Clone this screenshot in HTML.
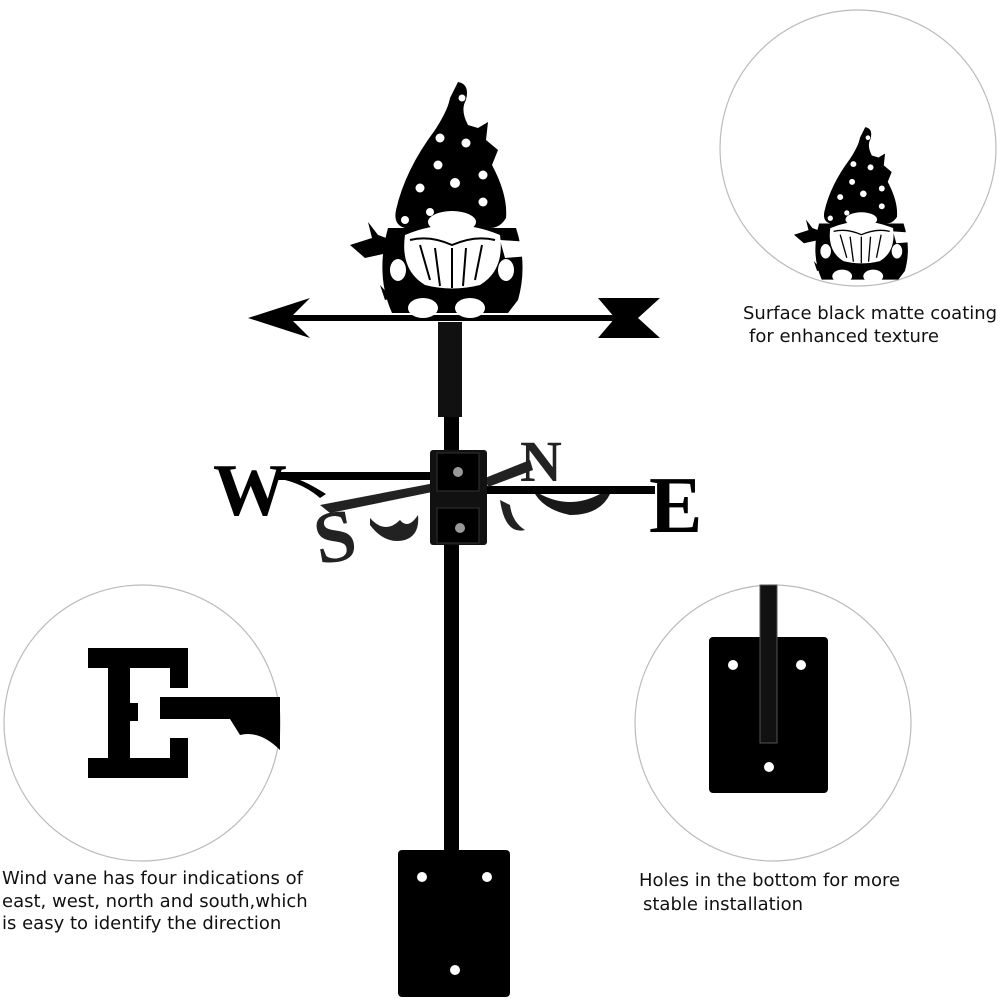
<!DOCTYPE html>
<html><head><meta charset="utf-8"><style>
html,body{margin:0;padding:0;background:#fff;}
svg{display:block}
text.c{font-family:"DejaVu Sans","Liberation Sans",sans-serif;font-size:18px;fill:#111;}
text.l{font-family:"Liberation Serif",serif;font-weight:bold;fill:#000;}
</style></head><body>
<svg width="1000" height="1000" viewBox="0 0 1000 1000" xmlns="http://www.w3.org/2000/svg">
<defs>
<g id="gn">
<g fill="#000">
<path d="M458 82 Q470 84 466 100 Q460 110 468 125 L478 128 L488 122 L486 140 L498 150 L492 165 Q508 195 506 218 Q500 228 490 228 L405 228 Q393 225 396 210 Q405 170 435 130 Q448 110 450 98 Z"/>
<path d="M388 228 L516 228 Q528 265 518 300 L508 313 L392 313 Q375 275 388 228 Z"/>
<path d="M350 245 L372 238 L368 222 L378 235 L392 240 L392 252 L365 258 Z"/>
<path d="M385 300 L380 285 L392 298 Z M505 300 L520 285 L512 305 Z"/>
</g>
<g fill="#fff">
<path d="M405 235 Q452 215 500 235 Q505 270 480 285 Q452 292 425 285 Q400 270 405 235 Z"/>
<ellipse cx="452" cy="222" rx="24" ry="11"/>
<path d="M500 240 L530 242 L545 248 L530 256 L505 258 Z"/>
<circle cx="462" cy="98" r="3.5"/>
<circle cx="440" cy="138" r="4.5"/><circle cx="466" cy="143" r="4.5"/><circle cx="438" cy="165" r="4.5"/>
<circle cx="455" cy="183" r="5"/><circle cx="420" cy="188" r="4.5"/><circle cx="483" cy="175" r="4.5"/>
<circle cx="483" cy="202" r="4.5"/><circle cx="430" cy="212" r="4"/><circle cx="405" cy="220" r="4"/>
<ellipse cx="398" cy="270" rx="8" ry="11"/><ellipse cx="506" cy="270" rx="8" ry="11"/>
<ellipse cx="423" cy="308" rx="15" ry="10"/><ellipse cx="470" cy="308" rx="15" ry="10"/>
</g>
<path d="M410 240 Q430 235 452 245 Q475 235 495 240 M420 245 L430 280 M435 248 L440 286 M452 248 L452 288 M466 248 L463 286 M482 245 L475 280" stroke="#000" stroke-width="2" fill="none"/>
</g>
</defs>

<circle cx="858" cy="148" r="138" fill="none" stroke="#bbb" stroke-width="1.2"/>
<circle cx="142" cy="723" r="138" fill="none" stroke="#bbb" stroke-width="1.2"/>
<circle cx="773" cy="723" r="138" fill="none" stroke="#bbb" stroke-width="1.2"/>

<use href="#gn" transform="translate(860 205) scale(0.66) translate(-450 -200)"/>
<text class="c" x="743" y="319">Surface black matte coating</text>
<text class="c" x="749" y="342">for enhanced texture</text>

<g fill="#000">
<rect x="108" y="648" width="22" height="130"/>
<rect x="88" y="648" width="100" height="20"/>
<rect x="88" y="758" width="100" height="20"/>
<rect x="170" y="648" width="18" height="40"/>
<rect x="170" y="738" width="18" height="40"/>
<rect x="108" y="703" width="30" height="18"/>
<rect x="160" y="697" width="120" height="22"/>
<path d="M230 719 L280 719 L280 750 Q260 730 240 735 Z"/>
</g>
<text class="c" x="2" y="884">Wind vane has four indications of</text>
<text class="c" x="2" y="907">east, west, north and south,which</text>
<text class="c" x="2" y="929">is easy to identify the direction</text>

<rect x="709" y="637" width="119" height="156" rx="4" fill="#000"/>
<rect x="760" y="585" width="17" height="158" fill="#111" stroke="#555" stroke-width="1"/>
<circle cx="733" cy="665" r="5" fill="#fff"/><circle cx="801" cy="665" r="5" fill="#fff"/><circle cx="769" cy="767" r="5" fill="#fff"/>
<text class="c" x="639" y="886">Holes in the bottom for more</text>
<text class="c" x="643" y="910">stable installation</text>

<rect x="444" y="415" width="15" height="440" fill="#000"/>
<rect x="438" y="322" width="24" height="95" fill="#111"/>

<rect x="270" y="315" width="360" height="6" fill="#000"/>
<path d="M248 318 L310 298 L290 318 L310 338 Z" fill="#000"/>
<path d="M598 298 L660 298 L638 318 L660 338 L598 338 L615 318 Z" fill="#000"/>

<use href="#gn"/>

<g fill="#000">
<rect x="278" y="472" width="162" height="8"/>
<path d="M285 480 Q305 485 320 498 L326 494 Q310 484 300 480 Z"/>
<rect x="470" y="486" width="185" height="8"/>
<path d="M540 494 Q570 510 600 494 L610 494 Q600 515 570 515 Q545 510 535 494 Z" opacity="0.9"/>
<path d="M320 505 L440 482 L442 490 L330 513 Z" fill="#222"/>
<path d="M485 478 L530 460 L533 470 L488 487 Z" fill="#222"/>
<path d="M370 518 Q385 535 400 520 Q408 530 418 515 Q420 535 405 540 Q385 545 370 525 Z" fill="#222"/>
<path d="M500 500 Q505 535 525 530 Q512 522 510 505 Z" fill="#222"/>
</g>
<text class="l" x="213" y="515" style="font-size:74px">W</text>
<text class="l" x="649" y="532" style="font-size:80px">E</text>
<text class="l" x="313" y="562" transform="rotate(-10 330 530)" style="font-size:74px;fill:#222">S</text>
<text class="l" x="520" y="481" style="font-size:58px;fill:#222">N</text>

<rect x="430" y="450" width="57" height="95" rx="3" fill="#111"/>
<rect x="437" y="453" width="42" height="38" fill="#000" stroke="#333"/>
<rect x="437" y="508" width="42" height="35" fill="#000" stroke="#333"/>
<circle cx="458" cy="472" r="5" fill="#999"/>
<circle cx="460" cy="528" r="5" fill="#999"/>

<rect x="398" y="850" width="112" height="147" rx="4" fill="#000"/>
<circle cx="422" cy="877" r="5" fill="#fff"/><circle cx="487" cy="877" r="5" fill="#fff"/><circle cx="455" cy="970" r="5" fill="#fff"/>
</svg>
</body></html>
